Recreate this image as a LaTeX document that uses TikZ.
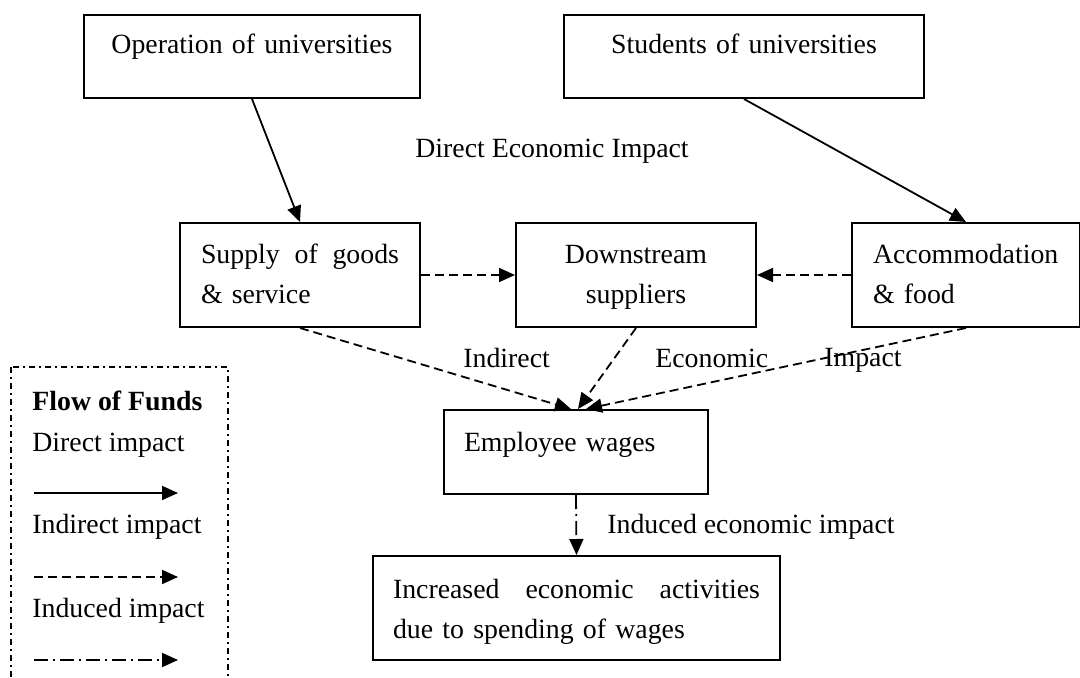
\documentclass[tikz,border=0pt]{standalone}
\usepackage{fontspec}
\setmainfont{Liberation Serif}
\usetikzlibrary{arrows.meta}

\begin{document}
\begin{tikzpicture}[x=.5pt,y=-.5pt,
	font=\fontsize{13.9}{20}\selectfont,
	khung/.style={draw,line width=1pt,anchor=north west,inner ysep=0pt},
	direct/.style={line width=.9pt,-{Triangle[length=8pt,width=7pt]}},
	indirect/.style={direct,dash pattern=on 4.5pt off 2.5pt},
	induced/.style={direct,dash pattern=on 7pt off 2.5pt on 1pt off 2.5pt},
	]
	\useasboundingbox (0,0) rectangle (1080,678);
	\path
	(83,14) node[khung,inner xsep=10pt,text width=148pt,align=center,
		text height=19.5pt,text depth=22pt] (op) {Operation of universities}    % <<< hàng 1
	(563,14) node[khung,inner xsep=19.5pt,text width=141pt,align=center,
		text height=19.5pt,text depth=22pt] (stud) {Students of universities}
	(179,222) node[khung,inner xsep=10.5pt,text width=99pt,align=left,
		text height=20.5pt,text depth=31.5pt] (supply) {Supply\hfill of\hfill goods\\\& service}  % <<< hàng 2
	(515,222) node[khung,inner xsep=10.5pt,text width=99pt,align=center,
		text height=20.5pt,text depth=31.5pt] (down) {Downstream\\suppliers}
	(851,222) node[khung,inner xsep=10.5pt,text width=93pt,align=left,
		text height=20.5pt,text depth=31.5pt] (acc) {Accommodation\\\& food}
	(443,409) node[khung,inner xsep=10pt,text width=112pt,align=left,
		text height=20.5pt,text depth=21.5pt] (emp) {Employee wages}      % <<< hàng 3
	(372,555) node[khung,inner xsep=10pt,text width=183.5pt,align=left,
		text height=21pt,text depth=31pt] (inc) {Increased\hfill economic\hfill activities\\due to spending of wages};
	% nhãn
	\path[inner sep=0pt,anchor=base west]
	(415,158) node (lbdirect) {Direct Economic Impact}
	(463,367) node (lbind1) {Indirect}
	(655,367) node (lbind2) {Economic}
	(824,366) node (lbind3) {Impact}
	(607,533) node (lbinduced) {Induced economic impact};
	% mũi tên
	\draw[direct] (op.south)--(supply.north);
	\draw[direct] (stud.south)--(acc.north);
	\draw[indirect] (supply.east)--(down.west);
	\draw[indirect] (acc.west)--(down.east);
	\draw[indirect] (supply.south)--([xshift=-2.5pt]emp.north);
	\draw[indirect] (down.south)--([xshift=1pt]emp.north);
	\draw[indirect] (acc.south)--([xshift=5pt]emp.north);
	\draw[induced] (emp.south)--(inc.north);
	% chú thích
	\draw[line width=.8pt,dash pattern=on 3pt off 2pt on 1pt off 2pt] (11,367) rectangle (228,690);
	\path[inner sep=0pt,anchor=base west]
	(32,410) node (lgtitle) {\textbf{Flow of Funds}}
	(32,451) node (lgdirect) {Direct impact}
	(32,533) node (lgindirect) {Indirect impact}
	(32,617) node (lginduced) {Induced impact};
	\coordinate (d1) at (34,493); \coordinate (d2) at (178,493);
	\coordinate (i1) at (34,577); \coordinate (i2) at (178,577);
	\coordinate (u1) at (34,660); \coordinate (u2) at (178,660);
	\draw[direct] (d1)--(d2);
	\draw[indirect] (i1)--(i2);
	\draw[induced] (u1)--(u2);
\end{tikzpicture}
\end{document}
